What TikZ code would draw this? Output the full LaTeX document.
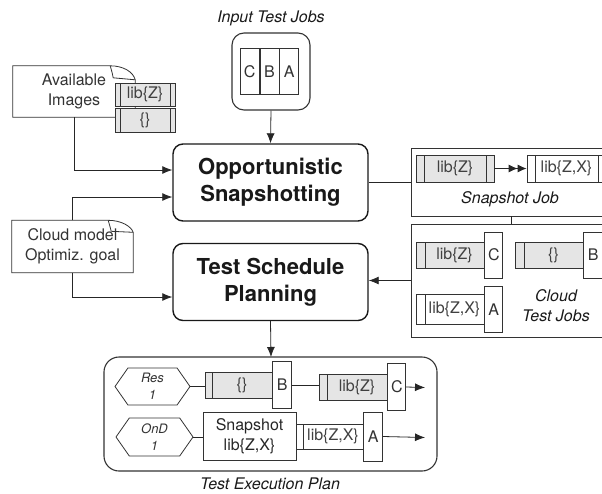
\documentclass[tikz,border=0pt]{standalone}
\usepackage{fontspec}
\setmainfont{TeX Gyre Heros}
\usepackage{tikz}
\usetikzlibrary{positioning}
\usetikzlibrary{shapes.symbols,arrows.meta}

\newcommand{\txtsize}{\fontsize{16}{20}\selectfont}
\newcommand{\bigsize}{\fontsize{22}{27}\selectfont}
\newcommand{\hexsize}{\fontsize{13}{17}\selectfont}

\tikzset{
  line/.style={draw=black!85, line width=0.8pt},
  arr/.style={line, -{Latex[length=10pt,width=8pt]}},
  proc/.style={draw=black!90, line width=1.4pt, rounded corners=10pt, align=center, font=\bigsize\bfseries, text=black!90, minimum width=195pt, minimum height=77pt},
  frame/.style={draw=black!80, line width=0.8pt, inner sep=0pt},
  title/.style={align=center, font=\txtsize\itshape, text=black!90},
  doc/.style={align=center, font=\txtsize, text=black!80, inner sep=0pt},
  docline/.style={draw=black!80, line width=0.8pt},
  bar/.style={draw=black!80, line width=0.8pt, fill=white, inner sep=0pt, minimum height=26pt, font=\txtsize, text=black!75},
  img/.style={bar, fill=gray!20},
  oneline/.style={execute at begin node={\hspace*{#1}}, path picture={\draw [black!80, line width=0.8pt] ([xshift=#1]path picture bounding box.north west) -- ([xshift=#1]path picture bounding box.south west);}},
  twolines/.style={path picture={\draw [black!80, line width=0.8pt] ([xshift=#1]path picture bounding box.north west) -- ([xshift=#1]path picture bounding box.south west) ([xshift=-#1]path picture bounding box.north east) -- ([xshift=-#1]path picture bounding box.south east);}},
  tag/.style={draw=black!80, line width=0.8pt, fill=white, inner sep=0pt, minimum width=18pt, minimum height=46pt, font=\txtsize, text=black!80},
  cell/.style={tag, minimum width=19pt},
  hex/.style={signal, signal to=west and east, signal pointer angle=110, draw=black!80, line width=0.8pt, inner sep=0pt, align=center, font=\hexsize\itshape, text=black!80, minimum width=75pt, minimum height=37pt},
}

\begin{document}
\begin{tikzpicture}[x=1pt, y=-1pt]

\useasboundingbox (0, 0) rectangle (602, 493);
\clip (0, 0) rectangle (602, 493);

% input jobs

\node [title] at (271, 18) (intitle) {Input Test Jobs};
\node [frame, line width=1.1pt, rounded corners=12pt, minimum width=78pt, minimum height=77pt] at (271, 71.5) (queue) {};
\node [cell] at (269.5, 71.3) (qb) {B};
\node [cell, left=0pt of qb] (qc) {C};
\node [cell, right=0pt of qb] (qa) {A};

% main steps

\node [proc] at (270.5, 182.5) (opp) {Opportunistic\\Snapshotting};
\node [proc] at (270.5, 282) (tsp) {Test Schedule\\Planning};
\path [draw, arr] (queue.south) to (opp.north);
\path [draw, arr] (tsp.south) to ([xshift=0.5pt]tsp.south |- 0, 357);

% inputs

\node [doc, minimum width=122pt, minimum height=51pt] at (74, 91.5) (avail) {Available\\Images};
\path [docline] (avail.north west) -- ([xshift=-25pt]avail.north east) .. controls ([xshift=-12pt]avail.north east) and ([xshift=-2pt, yshift=-6pt]avail.north east) .. ([yshift=-14pt]avail.north east) -- (avail.south east) -- (avail.south west) -- cycle;
\path [docline] ([xshift=-25pt]avail.north east) .. controls ([xshift=-23pt, yshift=-7pt]avail.north east) .. ([xshift=-22pt, yshift=-12pt]avail.north east) -- ([yshift=-14pt]avail.north east);
\node [img, twolines=5pt, minimum width=60pt, minimum height=23pt] at (145, 94.5) (imgz) {lib\{Z\}};
\node [img, twolines=5pt, minimum width=60pt, minimum height=24pt, below=2pt of imgz] (imge) {\{\}};

\node [doc, minimum width=121pt, minimum height=52pt] at (72.5, 246.5) (cloud) {Cloud model\\Optimiz. goal};
\path [docline] (cloud.north west) -- ([xshift=-25pt]cloud.north east) .. controls ([xshift=-12pt]cloud.north east) and ([xshift=-2pt, yshift=-6pt]cloud.north east) .. ([yshift=-12pt]cloud.north east) -- (cloud.south east) -- (cloud.south west) -- cycle;
\path [docline] ([xshift=-25pt]cloud.north east) .. controls ([xshift=-23pt, yshift=-7pt]cloud.north east) .. ([xshift=-22pt, yshift=-11pt]cloud.north east) -- ([yshift=-12pt]cloud.north east);

\path [draw, arr] (avail.south) |- ([yshift=12.5pt]opp.west);
\path [draw, arr] (cloud.north) |- ([yshift=-14.5pt]opp.west);
\path [draw, arr] (cloud.south) |- ([yshift=-15pt]tsp.west);

% snapshot job

\node [frame, minimum width=209pt, minimum height=68pt] at (515.5, 182) (snapjob) {};
\node [title] at (510, 199) (snaptitle) {Snapshot Job};
\node [img, twolines=8pt, minimum width=78pt, minimum height=27pt] at (455, 168.5) (sz) {lib\{Z\}};
\node [bar, twolines=8pt, minimum width=79pt, minimum height=27pt] at (566.5, 168.5) (szx) {lib\{Z,X\}};
\path [draw, line, -{Latex[length=9pt,width=8pt]Latex[length=9pt,width=8pt]}] (sz.east) to (szx.west);
\path [draw, line] (opp.east) to (opp.east -| snapjob.west);

% cloud test jobs

\node [frame, minimum width=209pt, minimum height=113pt] at (515.5, 280.5) (cloudjobs) {};
\node [title] at (556, 305.5) (cloudtitle) {Cloud\\Test Jobs};
\node [img, oneline=9pt, minimum width=68pt] at (450, 255) (jz) {lib\{Z\}};
\node [tag, anchor=west] at (jz.east) (jc) {C};
\node [img, oneline=9pt, minimum width=68pt] at (549, 255) (je) {\{\}};
\node [tag, anchor=west, minimum width=19pt] at (je.east) (jb) {B};
\node [bar, oneline=9pt, minimum width=68pt, minimum height=30pt] at (450, 309.5) (jzx) {lib\{Z,X\}};
\node [tag, anchor=west] at (jzx.east) (ja) {A};
\path [draw, line] ([xshift=-4.5pt]snapjob.south) to ([xshift=-4.5pt]cloudjobs.north);
\path [draw, arr] (cloudjobs.west) to (cloudjobs.west -| tsp.east);

% execution plan

\node [frame, line width=1.1pt, rounded corners=15pt, minimum width=333pt, minimum height=114pt] at (270.5, 414) (plan) {};
\node [title] at (270, 484) (plantitle) {Test Execution Plan};

\node [hex] at (152.5, 386.5) (res) {Res\\1};
\node [img, oneline=7pt, minimum width=67pt] at (238.5, 385) (e1) {\{\}};
\node [tag, anchor=west, minimum width=19pt, minimum height=47pt] at (e1.east) (b1) {B};
\node [img, oneline=8pt, minimum width=68pt] at (353, 387) (z1) {lib\{Z\}};
\node [tag, anchor=west, minimum height=47pt] at (z1.east) (c1) {C};
\coordinate (out1) at (425, 387.5);
\path [draw, line] (res.east) to (res.east -| e1.west);
\path [draw, line] (b1.east) to (b1.east -| z1.west);
\path [draw, arr] (c1.east) to (out1);

\node [hex, minimum width=77pt, minimum height=38pt] at (154.5, 437) (ond) {OnD\\1};
\node [frame, minimum width=93pt, minimum height=48pt, align=center, font=\txtsize, text=black!85] at (249.5, 436) (snap2) {Snapshot\\lib\{Z,X\}};
\node [bar, oneline=7pt, minimum width=67pt, minimum height=25pt] at (329.5, 436.5) (zx2) {lib\{Z,X\}};
\node [tag, anchor=west, minimum width=19pt, minimum height=49pt] at (zx2.east) (a2) {A};
\coordinate (out2) at (425, 437.5);
\path [draw, line] (ond.east) to (ond.east -| snap2.west);
\path [draw, arr] (a2.east) to (out2);

\end{tikzpicture}
\end{document}
